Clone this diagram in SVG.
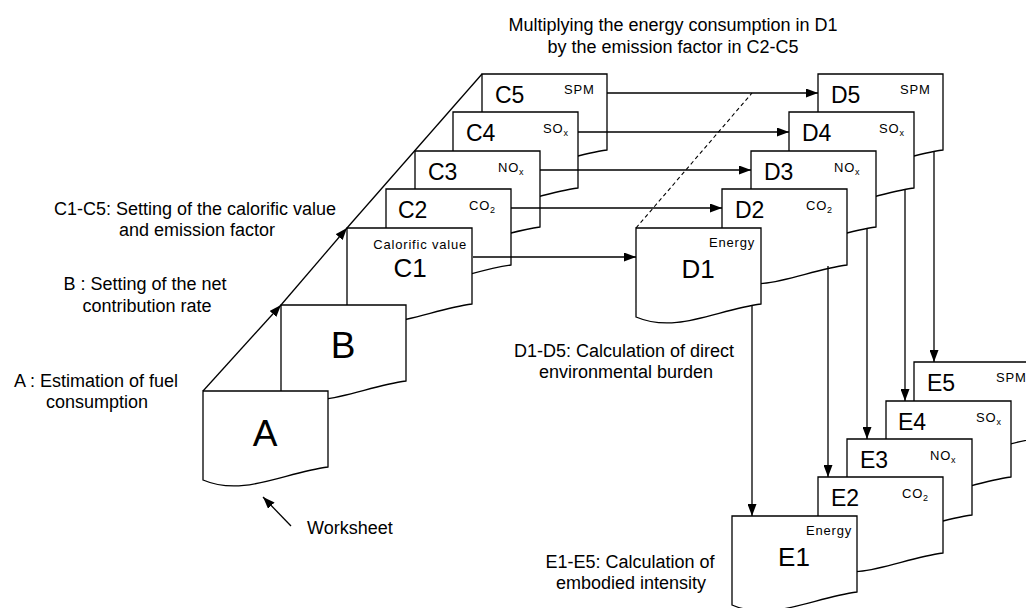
<svg xmlns="http://www.w3.org/2000/svg" width="1026" height="608" viewBox="0 0 1026 608">
<style>
  .doc{fill:#fff;stroke:#000;stroke-width:1.3}
  .ln{fill:none;stroke:#000;stroke-width:1.3}
  .dash{fill:none;stroke:#000;stroke-width:1.1;stroke-dasharray:4,3}
  text{font-family:"Liberation Sans",Arial,sans-serif;fill:#000}
  .lbl{font-size:18px}
  .big{font-size:37px}
  .mid{font-size:26px}
  .sm{font-size:23px}
  .tag{font-size:13px;letter-spacing:0.8px}
  .sub{font-size:9px}
</style>
<defs>
  <path id="doc" d="M0,0 H125 V76 C80,82 40,106 0,89 Z"/>
  <marker id="ah" markerUnits="userSpaceOnUse" markerWidth="13" markerHeight="9" refX="12" refY="4.5" orient="auto">
    <path d="M0,0 L12,4.5 L0,9 Z" fill="#000"/>
  </marker>
</defs>

<rect x="0" y="0" width="1026" height="608" fill="#fff"/>

<g id="labels">
  <text class="lbl" x="673" y="31" text-anchor="middle">Multiplying the energy consumption in D1</text>
  <text class="lbl" x="673" y="53" text-anchor="middle">by the emission factor in C2-C5</text>
  <text class="lbl" x="195" y="215" text-anchor="middle">C1-C5: Setting of the calorific value</text>
  <text class="lbl" x="197" y="236" text-anchor="middle">and emission factor</text>
  <text class="lbl" x="145" y="290" text-anchor="middle">B : Setting of the net</text>
  <text class="lbl" x="147" y="312" text-anchor="middle">contribution rate</text>
  <text class="lbl" x="96" y="387" text-anchor="middle">A : Estimation of fuel</text>
  <text class="lbl" x="97" y="408" text-anchor="middle">consumption</text>
  <text class="lbl" x="624" y="357" text-anchor="middle">D1-D5: Calculation of direct</text>
  <text class="lbl" x="626" y="378" text-anchor="middle">environmental burden</text>
  <text class="lbl" x="630" y="568" text-anchor="middle">E1-E5: Calculation of</text>
  <text class="lbl" x="631" y="589" text-anchor="middle">embodied intensity</text>
  <text class="lbl" x="307" y="534">Worksheet</text>
</g>

<!-- C stack -->
<g id="nodeC5"><use href="#doc" class="doc" x="482" y="74"/><text class="sm" x="495" y="103">C5</text><text class="tag" x="564" y="94">SPM</text></g>
<g id="nodeC4"><use href="#doc" class="doc" x="453" y="112"/><text class="sm" x="466" y="141">C4</text><text class="tag" x="543" y="133">SO<tspan class="sub" dy="3">x</tspan></text></g>
<g id="nodeC3"><use href="#doc" class="doc" x="415" y="151"/><text class="sm" x="428" y="180">C3</text><text class="tag" x="498" y="172">NO<tspan class="sub" dy="3">x</tspan></text></g>
<g id="nodeC2"><use href="#doc" class="doc" x="386" y="189"/><text class="sm" x="398" y="218">C2</text><text class="tag" x="469" y="210">CO<tspan class="sub" dy="3">2</tspan></text></g>
<g id="nodeC1"><use href="#doc" class="doc" x="347" y="228"/><text class="mid" x="410" y="277" text-anchor="middle">C1</text><text class="tag" x="467" y="249" text-anchor="end">Calorific value</text></g>
<g id="nodeB"><use href="#doc" class="doc" x="281" y="305"/><text class="big" x="343" y="358" text-anchor="middle">B</text></g>
<g id="nodeA"><use href="#doc" class="doc" x="203" y="391"/><text class="big" x="265" y="446" text-anchor="middle">A</text></g>

<!-- D stack -->
<g id="nodeD5"><use href="#doc" class="doc" x="818" y="74"/><text class="sm" x="831" y="103">D5</text><text class="tag" x="900" y="94">SPM</text></g>
<g id="nodeD4"><use href="#doc" class="doc" x="789" y="112"/><text class="sm" x="802" y="141">D4</text><text class="tag" x="879" y="133">SO<tspan class="sub" dy="3">x</tspan></text></g>
<g id="nodeD3"><use href="#doc" class="doc" x="751" y="151"/><text class="sm" x="764" y="180">D3</text><text class="tag" x="834" y="172">NO<tspan class="sub" dy="3">x</tspan></text></g>
<g id="nodeD2"><use href="#doc" class="doc" x="722" y="189"/><text class="sm" x="735" y="218">D2</text><text class="tag" x="806" y="210">CO<tspan class="sub" dy="3">2</tspan></text></g>
<g id="nodeD1"><use href="#doc" class="doc" x="636" y="228"/><text class="mid" x="698" y="278" text-anchor="middle">D1</text><text class="tag" x="755" y="247" text-anchor="end">Energy</text></g>

<!-- E stack -->
<g id="nodeE5"><use href="#doc" class="doc" x="914" y="362"/><text class="sm" x="927" y="391">E5</text><text class="tag" x="996" y="382">SPM</text></g>
<g id="nodeE4"><use href="#doc" class="doc" x="886" y="401"/><text class="sm" x="898" y="430">E4</text><text class="tag" x="976" y="422">SO<tspan class="sub" dy="3">x</tspan></text></g>
<g id="nodeE3"><use href="#doc" class="doc" x="847" y="439"/><text class="sm" x="860" y="468">E3</text><text class="tag" x="930" y="460">NO<tspan class="sub" dy="3">x</tspan></text></g>
<g id="nodeE2"><use href="#doc" class="doc" x="818" y="477"/><text class="sm" x="831" y="506">E2</text><text class="tag" x="902" y="498">CO<tspan class="sub" dy="3">2</tspan></text></g>
<g id="nodeE1"><use href="#doc" class="doc" x="732" y="516"/><text class="mid" x="794" y="566" text-anchor="middle">E1</text><text class="tag" x="852" y="535" text-anchor="end">Energy</text></g>

<g id="connectors">
  <!-- diagonal -->
  <line class="ln" x1="203" y1="391" x2="281" y2="305" marker-end="url(#ah)"/>
  <line class="ln" x1="281" y1="305" x2="347" y2="228" marker-end="url(#ah)"/>
  <line class="ln" x1="347" y1="228" x2="482" y2="74"/>
  <!-- C to D -->
  <line class="ln" x1="473" y1="257" x2="636" y2="257" marker-end="url(#ah)"/>
  <line class="ln" x1="511" y1="208" x2="722" y2="208" marker-end="url(#ah)"/>
  <line class="ln" x1="540" y1="170" x2="751" y2="170" marker-end="url(#ah)"/>
  <line class="ln" x1="578" y1="132" x2="789" y2="132" marker-end="url(#ah)"/>
  <line class="ln" x1="607" y1="93" x2="818" y2="93" marker-end="url(#ah)"/>
  <!-- dashed -->
  <line class="dash" x1="636" y1="228" x2="752" y2="93"/>
  <!-- D to E -->
  <line class="ln" x1="752" y1="305" x2="752" y2="516" marker-end="url(#ah)"/>
  <line class="ln" x1="828" y1="266" x2="828" y2="477" marker-end="url(#ah)"/>
  <line class="ln" x1="867" y1="228" x2="867" y2="439" marker-end="url(#ah)"/>
  <line class="ln" x1="905" y1="189" x2="905" y2="401" marker-end="url(#ah)"/>
  <line class="ln" x1="934" y1="151" x2="934" y2="362" marker-end="url(#ah)"/>
  <!-- worksheet pointer -->
  <line class="ln" x1="291" y1="526" x2="263" y2="497" marker-end="url(#ah)"/>
</g>
</svg>
